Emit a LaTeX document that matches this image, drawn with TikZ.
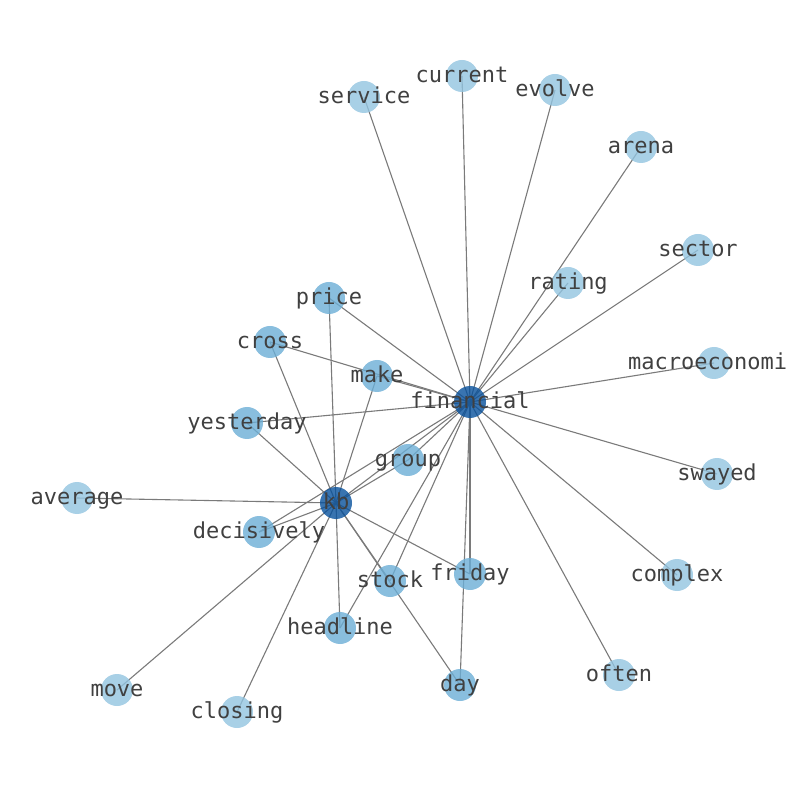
\documentclass[tikz,border=0pt]{standalone}
\usepackage{fontspec}
\newfontfamily\dvm{DejaVu Sans Mono}
\pgfdeclarelayer{bg}
\pgfsetlayers{bg,main}
\definecolor{leafc}{HTML}{92C4E0}
\definecolor{midc}{HTML}{6BAED6}
\definecolor{hubc}{HTML}{08519C}
\definecolor{edgec}{HTML}{7A7A7A}
\definecolor{txtc}{HTML}{404040}
\tikzset{
  dot/.style={circle, minimum size=32pt, inner sep=0pt, draw=none, fill opacity=0.8},
  leaf/.style={dot, fill=leafc},
  mid/.style={dot, fill=midc},
  hub/.style={dot, fill=hubc},
  lbl/.style={inner sep=0pt, text height=16.5pt, text depth=3pt, text=txtc, font=\dvm\fontsize{22}{26}\selectfont},
  edge/.style={draw=edgec, line width=1.1pt}
}
\begin{document}
\begin{tikzpicture}[x=1pt,y=1pt]
\useasboundingbox (0,0) rectangle (794,790);
% nodes (y = 790 - pixel y)
\node[hub]  (financial)  at (470,388) {};
\node[hub]  (kb)         at (336,287) {};
\node[leaf] (current)    at (462,714) {};
\node[leaf] (service)    at (364,693) {};
\node[leaf] (evolve)     at (555,700) {};
\node[leaf] (arena)      at (641,643) {};
\node[leaf] (sector)     at (698,540) {};
\node[leaf] (rating)     at (568,507) {};
\node[mid]  (price)      at (329,492) {};
\node[mid]  (cross)      at (270,448) {};
\node[mid]  (make)       at (377,414) {};
\node[leaf] (macro)      at (714,427) {};
\node[mid]  (yesterday)  at (247,367) {};
\node[mid]  (group)      at (408,330) {};
\node[leaf] (swayed)     at (717,316) {};
\node[leaf] (average)    at (77,292) {};
\node[mid]  (decisively) at (259,258) {};
\node[mid]  (friday)     at (470,216) {};
\node[leaf] (complex)    at (677,215) {};
\node[mid]  (stock)      at (390,209) {};
\node[mid]  (headline)   at (340,162) {};
\node[leaf] (often)      at (619,115) {};
\node[mid]  (day)        at (460,105) {};
\node[leaf] (move)       at (117,100) {};
\node[leaf] (closing)    at (237,78) {};
% edges
\begin{pgfonlayer}{bg}
\foreach \t in {service,current,evolve,arena,rating,sector,price,cross,make,macro,yesterday,swayed,complex,often,day,friday,stock,headline,group,decisively,kb}
  \draw[edge] (financial.center) -- (\t.center);
\foreach \t in {price,cross,make,yesterday,average,decisively,move,closing,headline,stock,day,friday,group}
  \draw[edge] (kb.center) -- (\t.center);
\end{pgfonlayer}
% labels
\node[lbl] (financial-t)  at (financial)  {financial};
\node[lbl] (kb-t)         at (kb)         {kb};
\node[lbl] (current-t)    at (current)    {current};
\node[lbl] (service-t)    at (service)    {service};
\node[lbl] (evolve-t)     at (evolve)     {evolve};
\node[lbl] (arena-t)      at (arena)      {arena};
\node[lbl] (sector-t)     at (sector)     {sector};
\node[lbl] (rating-t)     at (rating)     {rating};
\node[lbl] (price-t)      at (price)      {price};
\node[lbl] (cross-t)      at (cross)      {cross};
\node[lbl] (make-t)       at (make)       {make};
\node[lbl, anchor=west] (macro-t) at ([xshift=-86pt]macro.center) {macroeconomi};
\node[lbl] (yesterday-t)  at (yesterday)  {yesterday};
\node[lbl] (group-t)      at (group)      {group};
\node[lbl] (swayed-t)     at (swayed)     {swayed};
\node[lbl] (average-t)    at (average)    {average};
\node[lbl] (decisively-t) at (decisively) {decisively};
\node[lbl] (friday-t)     at (friday)     {friday};
\node[lbl] (complex-t)    at (complex)    {complex};
\node[lbl] (stock-t)      at (stock)      {stock};
\node[lbl] (headline-t)   at (headline)   {headline};
\node[lbl] (often-t)      at (often)      {often};
\node[lbl] (day-t)        at (day)        {day};
\node[lbl] (move-t)       at (move)       {move};
\node[lbl] (closing-t)    at (closing)    {closing};
\end{tikzpicture}
\end{document}
